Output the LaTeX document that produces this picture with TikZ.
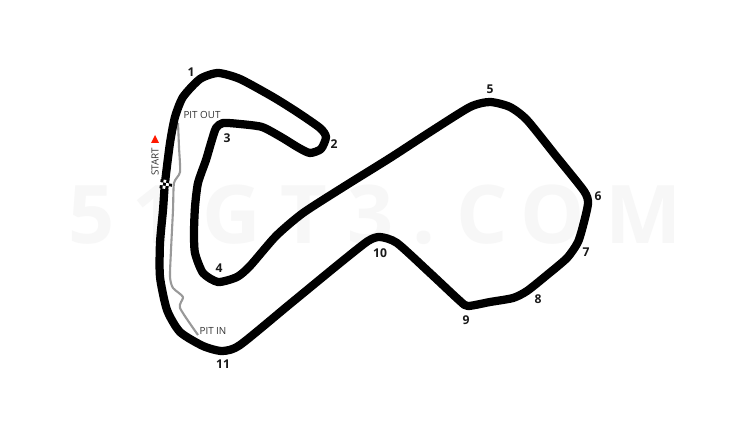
\documentclass[tikz,border=0pt]{standalone}
\usepackage{fontspec}
\setmainfont{Open Sans}
\tikzset{
    x=0.02cm,y=-0.02cm,
    track/.style={draw=black,line width=0.165cm,line join=round},
    pitlane/.style={draw=black!40,line width=0.042cm,line join=round},
    corner/.style={inner sep=0pt,font=\fontsize{6.9}{8}\selectfont\bfseries,text=black!90},
    pitlabel/.style={inner sep=0pt,font=\fontsize{5.6}{7}\selectfont,text=black!80},
    mark51/.style={inner sep=0pt,anchor=base,font=\fontsize{46}{50}\selectfont\bfseries,text=black!3}
}
\begin{document}
\begin{tikzpicture}
    \useasboundingbox (0,0) rectangle (750,422);
    \fill[white] (0,0) rectangle (750,422);
    \foreach \i/\ltr/\xpos in {a/5/92,b/1/156,c/G/232,d/T/304,e/3/371,f/./424,g/C/482,h/O/553,i/M/644}
        \node[mark51] (wm\i) at (\xpos,243) {\ltr};
    \draw[pitlane] plot[smooth,tension=0.4] coordinates {(178,123) (179,147) (180,172) (174,183) (173,210) (171,250) (170,277) (173,288) (183,297) (180,308) (198,335)};
    \draw[track] plot[smooth cycle,tension=0.4] coordinates {
        (165,183) (170,143) (175,117) (183,97) (200,79) (218,73) (240,79) (273,97) (297,112) (320,128)
        (326,137) (321,149) (310,153) (299,148) (281,137) (262,127) (240,124) (223,123) (216,128) (211,143) (206,160) (198,183)
        (195,207) (194,232) (195,253) (203,273) (218,282) (237,277) (250,266) (276,236) (303,213) (345,186) (390,158) (430,132) (470,107)
        (490,102) (510,107) (527,120) (556,156) (584,191) (588,203) (584,222) (578,242) (567,258) (547,275) (527,291) (513,298)
        (490,302) (468,306) (460,301) (430,273) (397,243) (380,237) (368,241) (340,263) (290,304) (240,345) (222,351) (203,346)
        (180,332) (167,310) (160,277) (160,243) (163,210)};
    \foreach \c in {0,1,2,3}
        \foreach \r in {0,1,2}{
            \pgfmathtruncatemacro{\odd}{mod(\c+\r,2)}
            \ifnum\odd=0 \def\shade{black}\else\def\shade{white}\fi
            \fill[\shade,shift={(166,184.5)},rotate=-8] (-6+3*\c,-4.5+3*\r) rectangle ++(3,3);
        }
    \node[corner] (c1) at (191,72) {1};
    \node[corner] (c2) at (334,144) {2};
    \node[corner] (c3) at (227,138) {3};
    \node[corner] (c4) at (219,268) {4};
    \node[corner] (c5) at (490,89) {5};
    \node[corner] (c6) at (598,196) {6};
    \node[corner] (c7) at (586,252) {7};
    \node[corner] (c8) at (538,299) {8};
    \node[corner] (c9) at (466,320) {9};
    \node[corner] (c10) at (380,253) {10};
    \node[corner] (c11) at (223,364) {11};
    \node[pitlabel] (pitout) at (202,115) {PIT OUT};
    \node[pitlabel] (pitin) at (213,331) {PIT IN};
    \node[pitlabel,rotate=90] (start) at (155,162) {START};
    \fill[red!80!orange] (155,135) -- (159,143) -- (151,143) -- cycle;
\end{tikzpicture}
\end{document}
